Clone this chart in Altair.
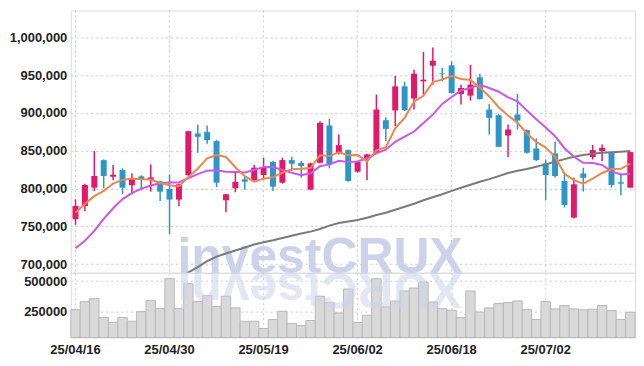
import altair as alt
import pandas as pd

dates = ["25/04/16","25/04/17","25/04/18","25/04/21","25/04/22","25/04/23","25/04/24","25/04/25","25/04/28","25/04/29",
         "25/04/30","25/05/02","25/05/07","25/05/08","25/05/09","25/05/12","25/05/13","25/05/14","25/05/15","25/05/16",
         "25/05/19","25/05/20","25/05/21","25/05/22","25/05/23","25/05/26","25/05/27","25/05/28","25/05/29","25/05/30",
         "25/06/02","25/06/04","25/06/05","25/06/09","25/06/10","25/06/11","25/06/12","25/06/13","25/06/16","25/06/17",
         "25/06/18","25/06/19","25/06/20","25/06/23","25/06/24","25/06/25","25/06/26","25/06/27","25/06/30","25/07/01",
         "25/07/02","25/07/03","25/07/04","25/07/07","25/07/08","25/07/09","25/07/10","25/07/11","25/07/14","25/07/15"]

opens = [759400,777000,801200,837700,815700,824500,804300,816200,811300,809600,
         799400,785400,817900,872900,874700,862800,784500,800300,812200,811300,
         817900,835100,807800,837700,833800,798600,834200,883500,847400,850900,
         822300,838600,847400,890500,903300,935300,919100,941900,962600,952900,
         963100,925200,923000,947200,904600,897100,870300,898000,877300,853100,
         833300,846500,810000,761600,820100,841700,849600,847400,808300,801200]
highs = [785800,806500,849600,838600,831100,826700,820100,817500,832000,810400,
         818800,806500,876000,884800,883500,864100,793300,821000,815700,831100,
         840800,836400,840800,842100,836400,834200,889200,892200,871600,851800,
         836400,846100,924400,894400,949400,941100,957300,980600,986800,959500,
         968300,937500,963900,952100,912000,898800,884800,925200,878200,866300,
         838600,861500,818800,814400,827600,857500,858400,848300,819700,848300]
lows = [752000,770400,796800,800300,810900,792400,792400,797700,795900,783600,
        739600,777000,816600,847400,859300,802100,768700,795100,798600,810000,
        812200,796800,806500,823200,814400,797700,833300,826700,845200,809100,
        821000,810900,846100,862800,882600,902400,904600,924400,937500,941900,
        925700,911200,916400,917800,871600,854900,841700,878200,846500,836400,
        784900,814400,774800,760300,795900,838600,836400,801200,791100,801200]
closes = [777000,804700,816600,816600,818400,801200,813100,812200,814800,795900,
          785400,805600,876000,868500,864100,807800,792400,808700,809100,827600,
          827600,802500,837700,832900,829800,833300,887000,832000,857500,810000,
          835100,845200,904600,879000,935300,903700,952100,944100,969200,952100,
          926500,933100,937500,918600,893600,855300,878200,890000,847400,837700,
          817900,816600,778300,805600,814400,850900,854000,804700,806500,848300]
volumes = [269000,334000,358000,205000,167000,205000,175000,253000,342000,277000,
           519000,277000,479000,334000,382000,294000,377000,283000,175000,175000,
           116000,189000,256000,157000,140000,181000,377000,326000,242000,436000,
           165000,224000,519000,291000,339000,420000,444000,492000,331000,277000,
           264000,205000,420000,250000,283000,318000,326000,339000,269000,189000,
           334000,275000,302000,275000,267000,272000,302000,261000,189000,248000]

ma5 = [768000,780000,790000,797000,806700,811500,813200,812300,811900,807400,
       804300,802800,815500,826300,839900,844400,841800,828300,816400,809100,
       813100,815100,820900,825700,826100,827200,844100,843000,847900,844000,
       844300,836000,850500,854800,879800,893600,914900,922800,940900,944200,
       948800,945000,943700,933600,921900,907600,896600,887100,872900,861700,
       854200,841900,819600,811200,806600,813200,820600,825900,826100,832900]
ma10 = [721000,731000,744000,760000,774000,786000,794000,800000,804000,807100,
        807900,808000,813900,819100,823700,824300,822300,821900,821400,824500,
        828700,828400,824600,821000,817600,820200,829600,832000,836800,835000,
        835800,840100,846700,851400,861900,868900,875500,886700,897800,912000,
        921200,930000,933300,937200,933100,928200,920800,915400,903200,891800,
        880900,869300,853400,842100,834100,833700,831300,822800,818700,819700]
ma60 = [None]*11 + [682000,689000,696000,704000,710000,714000,718000,722000,726000,
        729000,731500,734500,737500,740500,743000,746500,751000,754500,756500,
        758500,761500,765000,768000,772000,776000,780000,784500,788500,792500,
        797000,801000,805000,809000,812500,816500,820500,823500,826000,829000,
        832000,835500,839000,842000,844500,846000,847400,848000,848800,849600]

tick_labels = ["25/04/16","25/04/30","25/05/19","25/06/02","25/06/18","25/07/02"]
price_ticks = [700000,750000,800000,850000,900000,950000,1000000]
vol_ticks = [250000,500000]

UP = "#e2186a"
DOWN = "#2e96c7"
FONT = "Liberation Sans, Arial, sans-serif"
FS = 13
GRID = "#c9c9de"

df = pd.DataFrame({"date": dates, "open": opens, "high": highs, "low": lows,
                   "close": closes, "volume": volumes})
df["dir"] = ["up" if c >= o else "down" for o, c in zip(opens, closes)]

ma_df = pd.DataFrame({"date": dates, "ma5": ma5, "ma10": ma10, "ma60": ma60})
tick_df = pd.DataFrame({"date": tick_labels})

W = 566
H1 = 263
H2 = 65

xscale = alt.Scale(domain=dates, paddingInner=0, paddingOuter=0)
x_price = alt.X("date:O", scale=xscale, sort=dates, axis=None)
yscale = alt.Scale(domain=[688640, 1035600], zero=False, nice=False)
y_axis = alt.Axis(values=price_ticks, format=",d", title=None, ticks=False, domain=False,
                  grid=True, gridDash=[2, 3], gridColor=GRID, labelFont=FONT, labelFontSize=FS,
                  labelFontWeight="bold", labelColor="#222222", labelPadding=4,
                  minExtent=62, maxExtent=62)
dir_color = alt.Color("dir:N", scale=alt.Scale(domain=["up", "down"], range=[UP, DOWN]), legend=None)

base = alt.Chart(df)

vgrid = alt.Chart(tick_df).mark_rule(color=GRID, strokeDash=[2, 3], strokeWidth=1).encode(x=x_price)

watermark = alt.Chart(pd.DataFrame({"t": ["investCRUX"]})).mark_text(
    fontSize=50, fontWeight="bold", font="Liberation Sans, Arial, sans-serif",
    color="#ccd2e9", align="center", baseline="alphabetic"
).encode(x=alt.value(250), y=alt.value(H1), text="t:N")

wicks = base.mark_rule(strokeWidth=1.5).encode(
    x=x_price,
    y=alt.Y("low:Q", scale=yscale, axis=y_axis),
    y2="high:Q",
    color=dir_color,
)
bodies = base.mark_bar(size=6).encode(
    x=x_price,
    y=alt.Y("open:Q", scale=yscale),
    y2="close:Q",
    color=dir_color,
)
line60 = alt.Chart(ma_df).mark_line(strokeWidth=2, clip=True, color="#7a7a7a").encode(
    x=x_price, y=alt.Y("ma60:Q", scale=yscale))
line10 = alt.Chart(ma_df).mark_line(strokeWidth=2, clip=True, color="#cc55ee").encode(
    x=x_price, y=alt.Y("ma10:Q", scale=yscale))
line5 = alt.Chart(ma_df).mark_line(strokeWidth=2, clip=True, color="#f0854c").encode(
    x=x_price, y=alt.Y("ma5:Q", scale=yscale))

price = alt.layer(vgrid, watermark, wicks, bodies, line60, line10, line5).properties(width=W, height=H1)

x_vol = alt.X("date:O", scale=xscale, sort=dates,
              axis=alt.Axis(values=tick_labels, labelAngle=0, ticks=False, domain=False,
                            grid=True, gridDash=[2, 3], gridColor=GRID, bandPosition=0.5,
                            title=None, labelFont=FONT, labelFontSize=FS, labelFontWeight="bold",
                            labelColor="#222222", labelPadding=6))
vscale = alt.Scale(domain=[43500, 567700], zero=False, nice=False)
vol_bars = base.mark_bar(fill="#d9d9d9", stroke="#b9b9b9", strokeWidth=1).encode(
    x=x_vol,
    y=alt.Y("volume:Q", scale=vscale,
            axis=alt.Axis(values=vol_ticks, format="d", title=None, ticks=False, domain=False,
                          grid=True, gridDash=[2, 3], gridColor=GRID, labelFont=FONT,
                          labelFontSize=FS, labelFontWeight="bold", labelColor="#222222",
                          labelPadding=4, minExtent=62, maxExtent=62)),
    y2=alt.datum(43500),
)
reflection = alt.Chart(pd.DataFrame({"t": ["XURCtsevni"]})).mark_text(
    fontSize=50, fontWeight="bold", font="Liberation Sans, Arial, sans-serif",
    color="#ccd2e9", opacity=0.55, align="center", baseline="alphabetic", angle=180, clip=True
).encode(x=alt.value(250), y=alt.value(0), text="t:N")

volume = alt.layer(vol_bars, reflection).properties(width=W, height=H2)

chart = alt.vconcat(price, volume, spacing=0, bounds="flush").properties(
    padding={"left": 0, "top": 1, "right": 0, "bottom": 0}
).configure_view(stroke="#cfcfcf", strokeWidth=1).configure(background="white")

chart.save("out.html", embed_options={"renderer": "svg", "actions": False})
